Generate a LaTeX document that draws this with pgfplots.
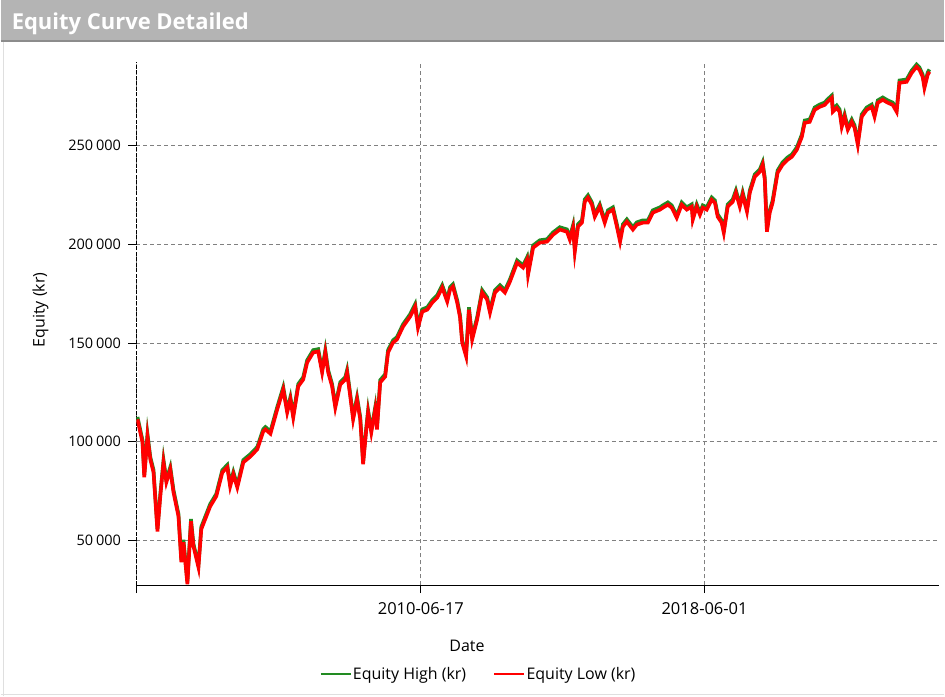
\documentclass[border=0pt]{standalone}
\usepackage{fontspec}
\setmainfont{Open Sans}
\usepackage{pgfplots}
\pgfplotsset{compat=1.18}
\usepackage{pgfplotstable}

\definecolor{eqgreen}{RGB}{34,139,34}
\definecolor{eqred}{RGB}{255,0,0}
\definecolor{titlebar}{RGB}{180,180,180}
\definecolor{gridgray}{RGB}{128,128,128}
\newcommand{\ks}{\hspace{0.2em}}

% decimal year, equity low, equity high (kr)
\pgfplotstableread{
year    low     high
2002.51 111300 112500
2002.65 99600  100800
2002.70 81900  83100
2002.79 102700 103900
2002.87 91000  92200
2002.96 84400  85600
2003.07 54500  55700
2003.15 72300  73500
2003.24 89500  90700
2003.32 79400  80600
2003.43 85900  87100
2003.52 74300  75500
2003.66 62100  63300
2003.74 38900  40100
2003.80 49000  50200
2003.91 27700  28900
2004.01 59600  60800
2004.08 47000  48200
2004.22 36300  37500
2004.30 55600  56800
2004.55 67200  68400
2004.72 72300  73500
2004.89 84400  85600
2005.03 87000  88200
2005.11 77300  78500
2005.20 83400  84600
2005.31 76800  78000
2005.48 89500  90700
2005.68 92500  93700
2005.87 96100  97300
2006.04 105200 106400
2006.10 106200 107400
2006.24 104000 105200
2006.43 116300 117500
2006.60 126400 127600
2006.71 114800 116000
2006.80 121400 122600
2006.88 112300 113500
2007.02 128000 129200
2007.16 131500 132700
2007.27 140100 141300
2007.44 145200 146400
2007.58 145700 146900
2007.69 135100 136300
2007.78 145200 146400
2007.86 135100 136300
2007.97 128000 129200
2008.06 117300 118500
2008.20 129000 130200
2008.34 131500 132700
2008.39 135100 136300
2008.48 122900 124100
2008.56 111300 112500
2008.67 121400 122600
2008.76 111300 112500
2008.84 88500  89700
2008.93 106200 107400
2008.98 114800 116000
2009.07 104700 105900
2009.18 116300 117500
2009.23 106200 107400
2009.32 130000 131200
2009.46 133000 134200
2009.54 145200 146400
2009.68 150200 151400
2009.79 151800 153000
2009.96 158300 159500
2010.16 163400 164600
2010.30 168500 169700
2010.38 157800 159000
2010.50 165900 167100
2010.64 166900 168100
2010.78 170500 171700
2010.92 173000 174200
2011.06 178100 179300
2011.20 171000 172200
2011.28 177100 178300
2011.36 178600 179800
2011.48 170500 171700
2011.56 162900 164100
2011.62 150200 151400
2011.73 143200 144400
2011.81 166900 168100
2011.90 151800 153000
2012.04 161900 163100
2012.18 175600 176800
2012.32 172000 173200
2012.40 165400 166600
2012.54 175600 176800
2012.68 178100 179300
2012.82 175600 176800
2012.96 181100 182300
2013.16 190700 191900
2013.33 188200 189400
2013.44 192300 193500
2013.47 184700 185900
2013.61 198300 199500
2013.80 200900 202100
2014.00 201400 202600
2014.17 204900 206100
2014.36 207500 208700
2014.56 206400 207600
2014.64 202400 203600
2014.73 208500 209700
2014.78 196300 197500
2014.87 209000 210200
2014.98 211000 212200
2015.06 221600 222800
2015.15 223700 224900
2015.26 220100 221300
2015.34 214000 215200
2015.48 219100 220300
2015.62 211000 212200
2015.71 216100 217300
2015.85 217600 218800
2015.96 209000 210200
2016.05 201400 202600
2016.13 209000 210200
2016.24 211500 212700
2016.41 207500 208700
2016.52 210000 211200
2016.69 211000 212200
2016.83 211000 212200
2016.97 216100 217300
2017.17 217600 218800
2017.25 218600 219800
2017.39 220100 221300
2017.50 218600 219800
2017.64 213500 214700
2017.78 220100 221300
2017.92 217600 218800
2018.06 219100 220300
2018.09 212500 213700
2018.20 219100 220300
2018.29 215000 216200
2018.37 218600 219800
2018.48 217600 218800
2018.62 222600 223800
2018.71 221100 222300
2018.79 214000 215200
2018.90 211000 212200
2018.96 205900 207100
2019.07 219100 220300
2019.21 221600 222800
2019.30 226200 227400
2019.41 219100 220300
2019.49 225200 226400
2019.61 216600 217800
2019.69 226200 227400
2019.83 234300 235500
2019.97 236800 238000
2020.05 240400 241600
2020.11 232800 234000
2020.17 206400 207600
2020.25 216100 217300
2020.33 221100 222300
2020.47 236300 237500
2020.61 240400 241600
2020.75 242900 244100
2020.87 244400 245600
2021.01 248000 249200
2021.15 254500 255700
2021.23 261600 262800
2021.37 262100 263300
2021.51 268200 269400
2021.65 269700 270900
2021.79 270700 271900
2021.87 272300 273500
2021.99 274300 275500
2022.02 267200 268400
2022.13 269200 270400
2022.21 267200 268400
2022.27 259600 260800
2022.35 264700 265900
2022.44 258100 259300
2022.55 262100 263300
2022.63 259100 260300
2022.72 250500 251700
2022.83 264700 265900
2022.97 268200 269400
2023.11 269700 270900
2023.19 264700 265900
2023.28 271800 273000
2023.42 273300 274500
2023.56 271800 273000
2023.70 270700 271900
2023.81 267200 268400
2023.89 281900 283100
2024.09 282400 283600
2024.23 286900 288100
2024.37 290000 291200
2024.45 288500 289700
2024.54 284900 286100
2024.59 279300 280500
2024.68 285900 287100
2024.73 287500 288700
}\equity

\begin{document}
\begin{tikzpicture}[x=1pt,y=1pt]
% window frame and title bar
\fill[white] (0,0) rectangle (945,697);
\fill[titlebar] (0,656) rectangle (945,697);
\draw[gray!90, line width=1.2pt] (0,656) -- (945,656);
\draw[gray!25, line width=0.8pt] (3,0) -- (3,655);
\draw[gray!25, line width=0.8pt] (0,2) -- (945,2);
\node[anchor=base west, text=white, inner sep=0pt,
  font=\fontsize{22}{26}\selectfont\bfseries] at (11,667) {Equity Curve Detailed};

\begin{axis}[
  at={(136pt,111pt)}, anchor=south west,
  scale only axis, width=804pt, height=524pt,
  xmin=2002.48, xmax=2025.01,
  ymin=27200, ymax=292500,
  scaled ticks=false,
  axis lines=left,
  axis line style={-},
  x axis line style={black, line width=1pt},
  y axis line style={black, line width=0.9pt, dash pattern=on 4pt off 1.5pt},
  tick align=outside,
  major tick length=8pt,
  tick style={black, line width=0.8pt},
  xtick={2002.48,2010.46,2018.42},
  xticklabels={,2010-06-17,2018-06-01},
  ytick={50000,150000,200000,250000},
  yticklabels={50\ks000,150\ks000,200\ks000,250\ks000},
  extra y ticks={100000},
  extra y tick labels={100\ks000},
  extra y tick style={grid style={black, line width=0.9pt, dash pattern=on 4pt off 3pt}},
  grid=major,
  major grid style={gridgray, line width=0.9pt, dash pattern=on 4pt off 3pt},
  /pgf/number format/assume math mode=true,
  xticklabel style={yshift=-6pt, font=\fontsize{16.5}{19}\selectfont},
  yticklabel style={xshift=-4pt, font=\fontsize{14.5}{18}\selectfont},
  xlabel={Date},
  ylabel={Equity (kr)},
  every axis x label/.style={at={(axis description cs:0.4117,-0.1164)}, anchor=center,
    font=\fontsize{16}{19}\selectfont},
  every axis y label/.style={at={(axis description cs:-0.1194,0.526)}, rotate=90, anchor=center,
    font=\fontsize{16}{19}\selectfont},
  legend columns=2,
  legend style={at={(axis description cs:0.4254,-0.1698)}, anchor=center,
    draw=none, fill=none, font=\fontsize{16}{19}\selectfont,
    /tikz/every even column/.append style={column sep=26pt},
    nodes={inner xsep=1pt}},
  legend image code/.code={\draw[#1, line width=2.4pt] (0pt,0pt) -- (30pt,0pt);},
]
\addplot[eqgreen, line width=3.6pt] table[x=year, y=high] {\equity};
\addlegendentry{Equity High (kr)}
\addplot[eqred, line width=3.6pt] table[x=year, y=low] {\equity};
\addlegendentry{Equity Low (kr)}
\end{axis}
\end{tikzpicture}
\end{document}
